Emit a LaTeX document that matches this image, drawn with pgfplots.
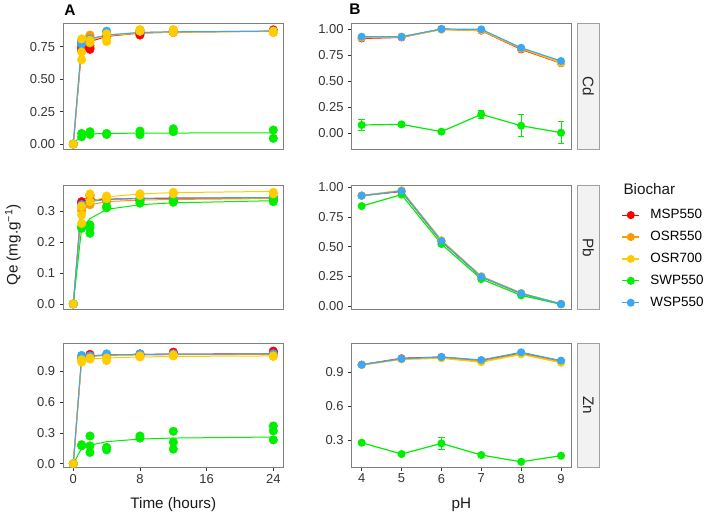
\documentclass[border=0pt]{standalone}
\usepackage{pgfplots}
\pgfplotsset{compat=1.18}
\usepackage{fontspec}
\setmainfont{Liberation Sans}
\definecolor{cMSP}{HTML}{FF0000}
\definecolor{cOSRa}{HTML}{FF9900}
\definecolor{cOSRb}{HTML}{FFCC00}
\definecolor{cSWP}{HTML}{00EE00}
\definecolor{cWSP}{HTML}{3AA8F5}
\definecolor{bordc}{HTML}{808080}
\definecolor{tickc}{HTML}{333333}
\definecolor{stripfill}{HTML}{F2F2F2}
\definecolor{stripdraw}{HTML}{A0A0A0}
\newcommand{\tfont}{\fontsize{13}{13}\selectfont}
\newcommand{\lfont}{\fontsize{15.3}{15.3}\selectfont}
\pgfplotsset{
  panel/.style={scale only axis,
    axis line style={draw=bordc, line width=0.8bp},
    every tick/.style={draw=tickc, line width=0.6bp},
    tick align=outside, major tick length=3.5bp, tick pos=left,
    ticklabel style={font=\tfont, text=black!80, inner sep=0pt},
    yticklabel shift=4.5bp, xticklabel shift=3bp},
  Acol/.style={panel, width=220bp, xmin=-1.2, xmax=25.2, xtick={0,8,16,24}, xticklabels={0,8,16,24}},
  Bcol/.style={panel, width=219.3bp, xmin=3.75, xmax=9.25, xtick={4,5,6,7,8,9}, xticklabels={4,5,6,7,8,9}},
  noxt/.style={xtick=\empty},
  pA/.style={only marks, mark=*, mark size=4.3bp},
  cA/.style={no marks, line width=1bp},
  pB/.style={mark=*, mark size=3.4bp, line width=1.2bp},
  eb/.style={error bars/.cd, y dir=both, y explicit, error mark=none, error bar style={draw=cSWP, line width=1bp}},
  caps/.style={draw=none, no marks, forget plot, error bars/.cd, x dir=both, x fixed=0.08, error mark=none, error bar style={draw=cSWP, line width=1bp}},
}
\begin{document}
\begin{tikzpicture}
\path[use as bounding box] (0,0) rectangle (705bp,-515bp);

% ---------------- A: Cd ----------------
\begin{axis}[Acol, noxt, at={(63.3bp,-23.5bp)}, anchor=north west, height=126bp,
  ymin=-0.042, ymax=0.929, ytick={0,0.25,0.5,0.75}, yticklabels={0.00,0.25,0.50,0.75}]
\addplot[pA, cMSP] coordinates {(0,0) (1,0.76) (1,0.74) (1,0.72) (2,0.74) (2,0.73) (2,0.76) (4,0.83) (4,0.84) (8,0.84) (8,0.85) (12,0.87) (12,0.86) (24,0.88) (24,0.87)};
\addplot[pA, cOSRa] coordinates {(0,0) (1,0.79) (1,0.80) (2,0.83) (2,0.84) (4,0.85) (4,0.84) (8,0.87) (8,0.88) (12,0.88) (12,0.87) (24,0.87) (24,0.86)};
\addplot[pA, cWSP] coordinates {(0,0) (1,0.79) (1,0.78) (1,0.77) (2,0.81) (4,0.87) (4,0.86) (8,0.87) (12,0.87) (24,0.87)};
\addplot[pA, cSWP] coordinates {(0,0) (1,0.056) (1,0.082) (2,0.095) (2,0.074) (4,0.082) (4,0.074) (8,0.10) (8,0.072) (12,0.118) (12,0.095) (24,0.108) (24,0.044)};
\addplot[pA, cOSRb] coordinates {(0,0) (1,0.81) (1,0.71) (1,0.65) (2,0.80) (2,0.78) (4,0.85) (4,0.79) (4,0.81) (8,0.88) (8,0.87) (12,0.86) (12,0.88) (24,0.86) (24,0.87)};
\addplot[cA, cMSP] coordinates {(0,0) (1,0.73) (2,0.79) (4,0.83) (8,0.855) (12,0.862) (24,0.87)};
\addplot[cA, cOSRa] coordinates {(0,0) (1,0.77) (2,0.81) (4,0.84) (8,0.86) (12,0.865) (24,0.87)};
\addplot[cA, cOSRb] coordinates {(0,0) (1,0.75) (2,0.80) (4,0.835) (8,0.855) (12,0.862) (24,0.868)};
\addplot[cA, cSWP] coordinates {(0,0) (1,0.07) (2,0.078) (4,0.082) (8,0.084) (12,0.085) (24,0.086)};
\addplot[cA, cWSP] coordinates {(0,0) (1,0.775) (2,0.81) (4,0.84) (8,0.86) (12,0.865) (24,0.87)};
\end{axis}

% ---------------- A: Pb ----------------
\begin{axis}[Acol, noxt, at={(63.3bp,-185.5bp)}, anchor=north west, height=124bp,
  ymin=-0.018, ymax=0.382, ytick={0,0.1,0.2,0.3}, yticklabels={0.0,0.1,0.2,0.3}]
\addplot[pA, cMSP] coordinates {(0,0) (1,0.33) (1,0.325) (2,0.35) (2,0.34) (4,0.335) (8,0.335) (8,0.34) (12,0.34) (12,0.335) (24,0.345) (24,0.34)};
\addplot[pA, cOSRa] coordinates {(0,0) (1,0.30) (1,0.31) (2,0.35) (2,0.32) (4,0.335) (4,0.33) (8,0.34) (12,0.34) (24,0.34)};
\addplot[pA, cWSP] coordinates {(0,0) (1,0.32) (2,0.33) (4,0.34) (8,0.34) (12,0.34) (24,0.342)};
\addplot[pA, cSWP] coordinates {(0,0) (1,0.244) (1,0.25) (2,0.255) (2,0.245) (2,0.228) (4,0.31) (4,0.315) (8,0.325) (8,0.33) (12,0.33) (12,0.328) (24,0.33) (24,0.335)};
\addplot[pA, cOSRb] coordinates {(0,0) (1,0.315) (1,0.287) (1,0.26) (2,0.33) (2,0.355) (4,0.348) (4,0.34) (8,0.355) (8,0.35) (12,0.36) (12,0.355) (24,0.36) (24,0.355)};
\addplot[cA, cMSP] coordinates {(0,0) (1,0.33) (2,0.335) (4,0.338) (8,0.34) (12,0.341) (24,0.342)};
\addplot[cA, cOSRa] coordinates {(0,0) (1,0.30) (2,0.32) (4,0.33) (8,0.335) (12,0.337) (24,0.34)};
\addplot[cA, cOSRb] coordinates {(0,0) (1,0.31) (2,0.33) (4,0.345) (8,0.355) (12,0.359) (24,0.363)};
\addplot[cA, cSWP] coordinates {(0,0) (1,0.245) (2,0.275) (4,0.305) (8,0.32) (12,0.326) (24,0.333)};
\addplot[cA, cWSP] coordinates {(0,0) (1,0.32) (2,0.33) (4,0.337) (8,0.34) (12,0.342) (24,0.343)};
\end{axis}

% ---------------- A: Zn ----------------
\begin{axis}[Acol, at={(63.3bp,-343.3bp)}, anchor=north west, height=124bp,
  ymin=-0.035, ymax=1.173, ytick={0,0.3,0.6,0.9}, yticklabels={0.0,0.3,0.6,0.9}]
\addplot[pA, cMSP] coordinates {(0,0) (1,1.03) (2,1.065) (2,1.04) (4,1.06) (8,1.07) (8,1.06) (12,1.087) (12,1.07) (24,1.097) (24,1.08)};
\addplot[pA, cOSRa] coordinates {(0,0) (1,1.02) (2,1.04) (4,1.05) (8,1.06) (12,1.06) (24,1.06)};
\addplot[pA, cWSP] coordinates {(0,0) (1,1.055) (2,1.05) (4,1.07) (8,1.07) (12,1.07) (24,1.07)};
\addplot[pA, cSWP] coordinates {(0,0) (1,0.174) (1,0.185) (2,0.27) (2,0.174) (2,0.11) (4,0.16) (4,0.135) (8,0.27) (8,0.25) (12,0.316) (12,0.21) (12,0.142) (24,0.368) (24,0.32) (24,0.232)};
\addplot[pA, cOSRb] coordinates {(0,0) (1,1.013) (1,0.99) (2,1.02) (2,1.03) (4,1.03) (4,1.005) (8,1.04) (8,1.05) (12,1.05) (12,1.06) (24,1.05) (24,1.045)};
\addplot[cA, cMSP] coordinates {(0,0) (1,1.03) (2,1.05) (4,1.06) (8,1.065) (12,1.068) (24,1.07)};
\addplot[cA, cOSRa] coordinates {(0,0) (1,1.03) (2,1.045) (4,1.055) (8,1.06) (12,1.062) (24,1.065)};
\addplot[cA, cOSRb] coordinates {(0,0) (1,1.01) (2,1.02) (4,1.03) (8,1.04) (12,1.045) (24,1.05)};
\addplot[cA, cSWP] coordinates {(0,0) (1,0.15) (2,0.18) (4,0.215) (8,0.24) (12,0.25) (24,0.26)};
\addplot[cA, cWSP] coordinates {(0,0) (1,1.04) (2,1.05) (4,1.06) (8,1.065) (12,1.067) (24,1.07)};
\end{axis}

% ---------------- B: Cd ----------------
\begin{axis}[Bcol, noxt, at={(351.7bp,-23.5bp)}, anchor=north west, height=126bp,
  ymin=-0.155, ymax=1.053, ytick={0,0.25,0.5,0.75,1}, yticklabels={0.00,0.25,0.50,0.75,1.00}]
\addplot[pB, cMSP] coordinates {(4,0.91) (5,0.92) (6,1.00) (7,0.985) (8,0.805) (9,0.673)};
\addplot[pB, cOSRa] coordinates {(4,0.915) (5,0.925) (6,0.995) (7,0.985) (8,0.81) (9,0.675)};
\addplot[pB, cOSRb] coordinates {(4,0.92) (5,0.925) (6,0.995) (7,0.99) (8,0.815) (9,0.68)};
\addplot[pB, cSWP, eb] coordinates {(4,0.08) +- (0,0.05) (5,0.086) +- (0,0.02) (6,0.016) +- (0,0.01) (7,0.182) +- (0,0.035) (8,0.073) +- (0,0.107) (9,0.006) +- (0,0.104)};
\addplot[caps] coordinates {(4,0.13) (4,0.03) (5,0.106) (5,0.066) (6,0.026) (6,0.006) (7,0.217) (7,0.147) (8,0.18) (8,-0.034) (9,0.11) (9,-0.098)};
\addplot[pB, cWSP] coordinates {(4,0.926) (5,0.926) (6,1.0) (7,0.997) (8,0.82) (9,0.693)};
\end{axis}

% ---------------- B: Pb ----------------
\begin{axis}[Bcol, noxt, at={(351.7bp,-185.5bp)}, anchor=north west, height=124bp,
  ymin=-0.029, ymax=1.015, ytick={0,0.25,0.5,0.75,1}, yticklabels={0.00,0.25,0.50,0.75,1.00},
  legend style={draw=none, fill=none, inner sep=0pt, outer sep=0pt,
    at={(1.2312,0.408)}, anchor=west,
    font=\fontsize{13.5}{13.5}\selectfont,
    nodes={inner sep=0pt, text height=10bp, text depth=3bp},
    row sep=8.9bp,
    /tikz/every odd column/.append style={column sep=10.5bp}},
  legend cell align=left]
\addlegendimage{cMSP, line width=1.2bp, mark=*, mark size=3.4bp}
\addlegendentry{MSP550}
\addlegendimage{cOSRa, line width=1.2bp, mark=*, mark size=3.4bp}
\addlegendentry{OSR550}
\addlegendimage{cOSRb, line width=1.2bp, mark=*, mark size=3.4bp}
\addlegendentry{OSR700}
\addlegendimage{cSWP, line width=1.2bp, mark=*, mark size=3.4bp}
\addlegendentry{SWP550}
\addlegendimage{cWSP, line width=1.2bp, mark=*, mark size=3.4bp}
\addlegendentry{WSP550}
\addplot[pB, cMSP] coordinates {(4,0.93) (5,0.965) (6,0.545) (7,0.245) (8,0.105) (9,0.017)};
\addplot[pB, cOSRa] coordinates {(4,0.93) (5,0.97) (6,0.55) (7,0.25) (8,0.107) (9,0.018)};
\addplot[pB, cOSRb] coordinates {(4,0.93) (5,0.975) (6,0.555) (7,0.25) (8,0.11) (9,0.018)};
\addplot[pB, cSWP] coordinates {(4,0.842) (5,0.938) (6,0.522) (7,0.227) (8,0.09) (9,0.015)};
\addplot[pB, cWSP] coordinates {(4,0.929) (5,0.969) (6,0.548) (7,0.247) (8,0.107) (9,0.017)};
\end{axis}

% ---------------- B: Zn ----------------
\begin{axis}[Bcol, at={(351.7bp,-343.3bp)}, anchor=north west, height=124bp,
  ymin=0.058, ymax=1.158, ytick={0.3,0.6,0.9}, yticklabels={0.3,0.6,0.9}]
\addplot[pB, cMSP] coordinates {(4,0.968) (5,1.025) (6,1.036) (7,1.005) (8,1.07) (9,1.0)};
\addplot[pB, cOSRa] coordinates {(4,0.968) (5,1.02) (6,1.03) (7,1.0) (8,1.065) (9,0.995)};
\addplot[pB, cOSRb] coordinates {(4,0.965) (5,1.015) (6,1.025) (7,0.99) (8,1.06) (9,0.985)};
\addplot[pB, cSWP, eb] coordinates {(4,0.276) +- (0,0.01) (5,0.176) +- (0,0.01) (6,0.27) +- (0,0.055) (7,0.167) +- (0,0.01) (8,0.107) +- (0,0.005) (9,0.161) +- (0,0.01)};
\addplot[caps] coordinates {(6,0.325) (6,0.215)};
\addplot[pB, cWSP] coordinates {(4,0.968) (5,1.021) (6,1.036) (7,1.01) (8,1.078) (9,1.004)};
\end{axis}

% ---------------- strips ----------------
\foreach \top/\bot/\lab in {23.5/149.5/Cd, 185.5/309.5/Pb, 343.3/467.3/Zn}{
  \draw[stripdraw, fill=stripfill, line width=0.8bp] (577.3bp,-\top bp) rectangle (599.3bp,-\bot bp);
  \node[rotate=-90, font=\lfont, text=black!85] at (588.3bp,{-(\top+\bot)/2*1bp}) {\lab};
}

% ---------------- titles and labels ----------------
\node[font=\fontsize{15.5}{15.5}\selectfont\bfseries] at (70bp,-10bp) {A};
\node[font=\fontsize{15.5}{15.5}\selectfont\bfseries] at (355bp,-9bp) {B};
\node[font=\lfont, text=black!90] at (173.3bp,-505bp) {Time (hours)};
\node[font=\lfont, text=black!90] at (461.3bp,-505bp) {pH};
\node[font=\lfont, text=black!90, rotate=90] at (13bp,-245bp) {Qe (mg.g\textsuperscript{\char"2212 1})};
\node[font=\lfont, text=black!90, anchor=west] at (620bp,-189.3bp) {Biochar};
\end{tikzpicture}
\end{document}
